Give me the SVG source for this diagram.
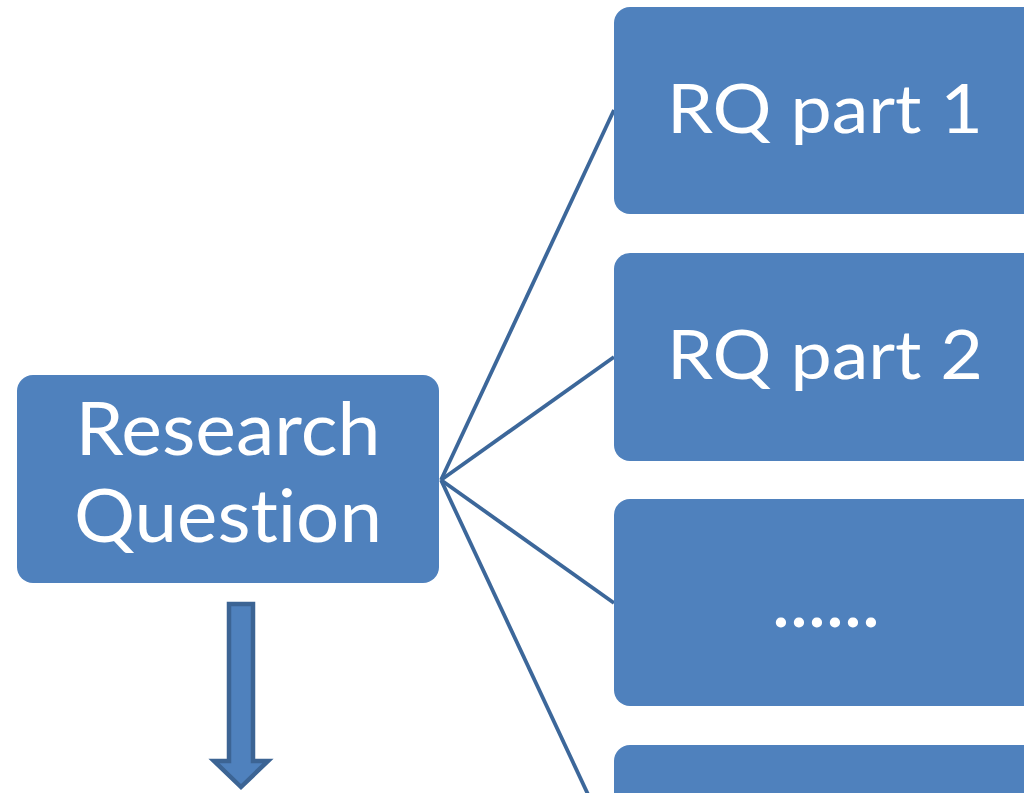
<svg xmlns="http://www.w3.org/2000/svg" width="1024" height="793" viewBox="0 0 1024 793">
  <style>
    .box { fill: #4f81bd; }
    .lbl { fill: #ffffff; font-family: Lato, "Open Sans", "Liberation Sans", sans-serif; text-anchor: middle; font-variant-ligatures: none; }
    .link { stroke: #3c679a; stroke-width: 3.8; fill: none; }
  </style>
  <rect width="1024" height="793" fill="#ffffff"/>

  <!-- connectors from the main question to its parts -->
  <g id="connectors">
    <line class="link" x1="441" y1="480" x2="614" y2="110"/>
    <line class="link" x1="441" y1="480" x2="614" y2="357"/>
    <line class="link" x1="441" y1="480" x2="614" y2="603"/>
    <line class="link" x1="441" y1="480" x2="614" y2="850"/>
    <path d="M229 604 H253 V761 H268 L241 787 L214 761 H229 Z" fill="#4f81bd" stroke="#3c6494" stroke-width="4.5" stroke-linejoin="miter"/>
  </g>

  <g id="research-question">
    <rect class="box" x="17" y="375" width="422" height="208" rx="16"/>
    <text class="lbl" x="228" y="455" font-size="74" textLength="305" lengthAdjust="spacingAndGlyphs">Research</text>
    <text class="lbl" x="228" y="542" font-size="74" textLength="308" lengthAdjust="spacingAndGlyphs">Question</text>
  </g>

  <g id="rq-part-1">
    <rect class="box" x="614" y="7" width="430" height="207" rx="16"/>
    <text class="lbl" x="825" y="133" font-size="67" textLength="316" lengthAdjust="spacingAndGlyphs">RQ part 1</text>
  </g>

  <g id="rq-part-2">
    <rect class="box" x="614" y="253" width="430" height="208" rx="16"/>
    <text class="lbl" x="825" y="379" font-size="67" textLength="316" lengthAdjust="spacingAndGlyphs">RQ part 2</text>
  </g>

  <g id="rq-more">
    <rect class="box" x="614" y="499" width="430" height="207" rx="16"/>
    <text class="lbl" x="826" y="627" font-size="67" font-weight="bold" textLength="106" lengthAdjust="spacing">......</text>
  </g>

  <g id="rq-part-n">
    <rect class="box" x="614" y="745" width="430" height="207" rx="16"/>
  </g>
</svg>
